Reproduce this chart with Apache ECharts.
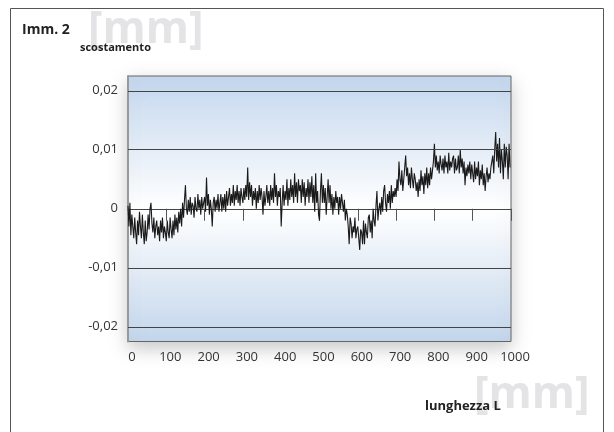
<!DOCTYPE html>
<html>
<head>
<meta charset="utf-8">
<script src="https://cdn.jsdelivr.net/npm/echarts@6/dist/echarts.min.js"></script>
<style>
  html, body { margin: 0; padding: 0; background: #fff; }
  #chart { width: 614px; height: 432px; }
</style>
</head>
<body>
<div id="chart"></div>
<script>
  // lunghezza L [mm], passo 2,5 mm
  var passoMm = 2.5
  // scostamento in micrometri, 20 valori ogni 50 mm
  var scostamentoUm = [
    0.5, -3, 1, -4.5, -1, -3, -5, -1.5, -4, -6, -2, -4.5, -0.5, -3, -5, -1, -4, -6, -2, -5.5,
    -4, -1, -3.5, 0, 1, -2.5, -4, -1.5, -5, -3, -2, -4.5, -3, -5.5, -2, -4, -1.5, -5, -3, -4,
    -5.5, -2, -4, -5, -1.5, -3.5, -5, -2, -4.5, -1, -3.5, -1.5, -4, -0.5, -2.5, 0, -3, 1, -1.5, 1.5,
    4, 0, -1, 1.5, -0.5, 2, -1, 1, 0.5, -1.5, 2, 0, -0.5, 2.5, 0, 1.5, -1, 2, 0, 1,
    2, -0.5, 5.3, 0.5, 2.5, -1, 1.5, 0, -3, 1, 2, -0.5, 1.5, 0, 2.5, -0.5, 1, 2.5, -0.5, 2,
    0, 2.5, -0.5, 3, 0.5, 2, 3.5, 0.5, 2.5, 1, 4, 0.5, 3, 1.5, 4, 1, 3, 0.5, 3.5, 2,
    1, 3.5, 1.5, 4, 2, 7, 1.5, 4.5, 2, 4, 0.5, 3, 1.5, 3.5, 0, 3, 1, 4, 1.5, 3.5,
    2, -1, 3, 0.5, 2, 4, 1, 3, 0.5, 4, 1.5, 3.5, 1, 6, 2, 4, 0.5, 3, 2, 3.5,
    -3, 1, 4, 0.5, 3, 1.5, 5, 0.5, 3.5, 1.5, 5, 2, 4, 1, 6, 2, 4.5, 1, 5, 3,
    4, 1, 5, 2, 4.5, 0.5, 3.5, 2, 5, 1, 4.5, 2, 5.5, 1, 4, -0.5, 6, 1, 3, -1,
    -2, 3, 6, 1, 4, 1, 3.5, -1, 2, 5, 1, 4, 0, 2.5, -1, 2, 0, 3, 1, 2,
    -1, 2, 0, 2.5, 1, -0.5, 1.5, -2, 0, -1, -3, -6, -1.5, -2.5, -5, -3, -4, -1.5, -5, -3.5,
    -3, -5, -7, -3.5, -4, -6, -2, -6, -2.5, -4, -5, -1.5, -1, -4, -2, -5, 0, -2, -3, 0.5,
    3, -2, 0, 1, -1, 2, -0.5, 3, 4, 1, -0.5, 2.5, 1, 3, 0, 4, 1, 3, 2, 3.5,
    2, 5, 3, 8, 5, 4, 6.5, 3, 5, 7, 9, 5.5, 7, 4, 6, 3.5, 7, 5, 3.5, 6,
    5, 3, 4.5, 2, 5, 3, 6.5, 4, 5.5, 2.5, 6, 4, 7, 3.5, 6, 4, 7, 5, 6.5, 8,
    11, 7, 9, 6.5, 8, 6, 9, 7.5, 6.5, 8.5, 6, 9, 7, 8, 6, 9.5, 6.5, 8, 7, 8.5,
    9, 6, 8.5, 6.5, 7, 9, 6, 10, 7, 8.5, 6, 8, 4, 7, 5.5, 7.5, 6, 8, 5, 7.5,
    7.5, 4.5, 8, 5, 7, 5.5, 8, 4, 6.5, 5, 7.5, 4, 6, 3, 5.5, 7, 4.5, 6, 5, 7,
    7, 9, 6, 10, 13, 8, 11, 7, 12, 6, 10, 8, 5, 11, 7, 10.5, 9, 5, 11, 7
  ]
  var griglieY = [0.02, 0.01, -0.01, -0.02]

  var serie = scostamentoUm.map(function (v, i) {
    return [i * passoMm, v / 1000]
  })

  var myChart = echarts.init(document.getElementById('chart'))
  var font = 'Open Sans'

  myChart.setOption({
    animation: false,
    textStyle: { fontFamily: font },
    graphic: [
      // cornice esterna
      { type: 'rect', shape: { x: 10.5, y: 8.5, width: 593, height: 440 },
        style: { fill: 'transparent', stroke: '#555', lineWidth: 1 }, z: -10 },
      // filigrane [mm]
      { type: 'text', left: 88, top: 8, z: -5,
        style: { text: '[mm]', font: 'bold 44px "Open Sans"', fill: '#e4e4e6' } },
      { type: 'text', left: 474, top: 373, z: -5,
        style: { text: '[mm]', font: 'bold 44px "Open Sans"', fill: '#e4e4e6' } },
      { type: 'text', left: 22, top: 23,
        style: { text: 'Imm. 2', font: 'bold 14px "Open Sans"', fill: '#222' } },
      { type: 'text', left: 80, top: 42,
        style: { text: 'scostamento', font: 'bold 11px "Open Sans"', fill: '#222' } },
      { type: 'text', left: 425, top: 400,
        style: { text: 'lunghezza L', font: 'bold 13px "Open Sans"', fill: '#222' } }
    ],
    grid: {
      left: 128, top: 76, width: 383, height: 265.5,
      show: true,
      borderColor: '#666',
      borderWidth: 1,
      backgroundColor: new echarts.graphic.LinearGradient(0, 0, 0, 1, [
        { offset: 0, color: '#c4d7ee' },
        { offset: 0.5, color: '#ffffff' },
        { offset: 1, color: '#c3d6ec' }
      ]),
      shadowColor: 'rgba(0,0,0,0.22)',
      shadowBlur: 18,
      shadowOffsetY: 6
    },
    xAxis: [
      {
        type: 'value', min: 0, max: 1000, interval: 100,
        axisLine: { onZero: true, lineStyle: { color: '#444', width: 1 } },
        axisTick: { show: true, length: 12, lineStyle: { color: '#555' } },
        axisLabel: { show: false },
        splitLine: { show: false }
      },
      {
        type: 'value', min: 0, max: 1000, interval: 100, position: 'bottom',
        axisLine: { show: false, onZero: false },
        axisTick: { show: false },
        axisLabel: {
          color: '#333', fontSize: 13, margin: 9, padding: [0, 0, 0, 8],
          formatter: function (v) { return String(v) }
        },
        splitLine: { show: false }
      }
    ],
    yAxis: {
      type: 'value', min: -0.0225, max: 0.0225, interval: 0.0025,
      axisLine: { show: true, lineStyle: { color: '#999', width: 2 } },
      axisTick: { show: false },
      splitLine: { show: false },
      axisLabel: {
        color: '#333', fontSize: 13, margin: 10,
        formatter: function (v) {
          var c = Math.round(v * 10000)
          if (c % 100 !== 0) return ''
          if (c === 0) return '0'
          return (c / 10000).toFixed(2).replace('.', ',')
        }
      }
    },
    series: [{
      type: 'line',
      xAxisIndex: 0,
      data: serie,
      symbol: 'none',
      lineStyle: { color: '#1a1a1a', width: 1.1 },
      markLine: {
        silent: true,
        symbol: 'none',
        label: { show: false },
        lineStyle: { color: '#444', width: 1, type: 'solid' },
        data: griglieY.map(function (y) { return { yAxis: y } })
      }
    }]
  })
</script>
</body>
</html>
